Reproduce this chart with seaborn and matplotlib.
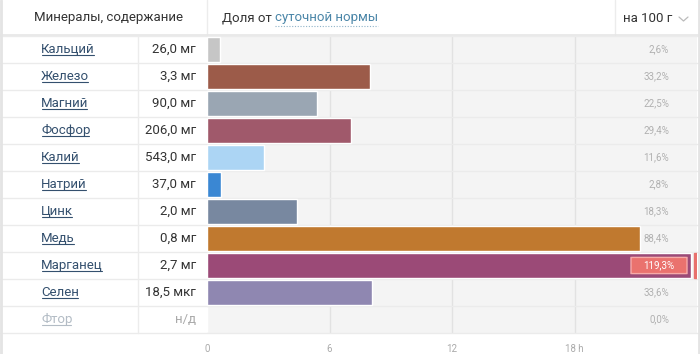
import matplotlib
matplotlib.use("Agg")
import numpy as np
import pandas as pd
import matplotlib.pyplot as plt
import seaborn as sns
from matplotlib.lines import Line2D
from matplotlib.patches import FancyBboxPatch, Rectangle
from matplotlib.transforms import blended_transform_factory


minerals = ['Кальций', 'Железо', 'Магний', 'Фосфор', 'Калий', 'Натрий',
            'Цинк', 'Медь', 'Марганец', 'Селен', 'Фтор']
amounts = ['26,0 мг', '3,3 мг', '90,0 мг', '206,0 мг', '543,0 мг', '37,0 мг',
           '2,0 мг', '0,8 мг', '2,7 мг', '18,5 мкг', 'н/д']
percents = [2.6, 33.2, 22.5, 29.4, 11.6, 2.8, 18.3, 88.4, 119.3, 33.6, 0.0]
bar_colors = ['#c6c6c6', '#9c5b49', '#9aa6b3', '#a0596b', '#acd5f4', '#3a87d3',
              '#7888a0', '#c0792f', '#9b4a77', '#8f87b1', '#cccccc']
tick_pos = [0, 25, 50, 75]
tick_labels = ['0', '6', '12', '18 h']

W, H = 700, 354

df = pd.DataFrame({'name': minerals, 'pct': percents})
df['shown'] = df['pct'].clip(upper=98.8)

sns.set_style('white')
plt.rcParams['font.family'] = ['Roboto', 'DejaVu Sans']

fig = plt.figure(figsize=(7, 3.54), dpi=100)
fig.patch.set_facecolor('white')


def fx(x):
    return x / W


def fy(y):
    return 1 - y / H


ax = fig.add_axes([fx(207), fy(333), 490 / W, 297 / H])
ax.set_facecolor('#f4f4f4')

sns.barplot(data=df, x='shown', y='name', hue='name', palette=bar_colors,
            legend=False, width=0.9, saturation=1, orient='h', ax=ax)

ax.set_xlim(0, 100)
ax.set_ylim(len(minerals) - 0.5, -0.5)
ax.set_xticks(tick_pos, tick_labels)
ax.set_yticks([])
ax.set_xlabel('')
ax.set_ylabel('')
ax.tick_params(axis='x', length=0, pad=8, labelsize=7, labelcolor='#aaaaaa')
for s in ax.spines.values():
    s.set_visible(False)
for t in tick_pos[1:]:
    ax.axvline(t, color='#e2e2e2', lw=1, zorder=0)

# overflow marker for values above 100%
for i, p in enumerate(percents):
    if p > 100:
        ax.add_patch(Rectangle((99.3, i - 0.45), 0.6, 0.9, color='#e8706c',
                               zorder=5))

blend = blended_transform_factory(fig.transFigure, ax.transData)

# row separators
for i in range(len(minerals) + 1):
    ax.add_line(Line2D([0, 1], [i - 0.5, i - 0.5], transform=blend,
                       color='#ebebeb', lw=1, clip_on=False, zorder=0.5))

# column lines
fig.add_artist(Line2D([fx(138), fx(138)], [fy(36), fy(333)], color='#ececec', lw=1))
fig.add_artist(Line2D([fx(207), fx(207)], [fy(0), fy(35)], color='#ececec', lw=1))
fig.add_artist(Line2D([fx(615), fx(615)], [fy(0), fy(35)], color='#ececec', lw=1))
fig.add_artist(Line2D([0, 1], [fy(35), fy(35)], color='#e6e6e6', lw=1.2))
fig.add_artist(Line2D([fx(1), fx(1)], [0, 1], color='#e4e4e4', lw=2))
fig.add_artist(Line2D([fx(699), fx(699)], [0, 1], color='#e4e4e4', lw=2))

# header
fig.text(fx(108), fy(18), 'Минералы, содержание', ha='center', va='center',
         fontsize=9.5, color='#333333')
t1 = fig.text(fx(222), fy(18), 'Доля от ', ha='left', va='center',
              fontsize=9.5, color='#333333')
fig.text(fx(623), fy(18), 'на 100 г', ha='left', va='center',
         fontsize=9.5, color='#333333')
fig.add_artist(Line2D([fx(679), fx(683.5), fx(688)], [fy(17), fy(21), fy(17)],
                      color='#bbbbbb', lw=0.9))

fig.canvas.draw()
r = fig.canvas.get_renderer()
bb = t1.get_window_extent(r)
t2 = fig.text(bb.x1 / W, fy(18), 'суточной нормы', ha='left', va='center',
              fontsize=9.5, color='#4b86a8')
fig.canvas.draw()
bb2 = t2.get_window_extent(r)
fig.add_artist(Line2D([bb2.x0 / W, bb2.x1 / W], [fy(26), fy(26)],
                      color='#8fb3c8', lw=0.8, ls=(0, (1, 1.5))))

# table text
name_texts = []
for i, (n, a, p) in enumerate(zip(minerals, amounts, percents)):
    muted = a == 'н/д'
    nc = '#b3bcc5' if muted else '#34506e'
    vc = '#aaaaaa' if muted else '#333333'
    nt = ax.text(fx(41), i, n, transform=blend, ha='left', va='center',
                 fontsize=9.5, color=nc)
    name_texts.append((nt, nc))
    ax.text(fx(196), i, a, transform=blend, ha='right', va='center',
            fontsize=9.5, color=vc)
    lab = f'{p:.1f}%'.replace('.', ',')
    if p > 100:
        ax.add_patch(FancyBboxPatch((fx(631), i - 0.3), fx(56), 0.6,
                                    boxstyle='round,pad=0,rounding_size=0.004',
                                    transform=blend, fc='#ea726e', ec='#f6aaa8',
                                    lw=1, clip_on=False, zorder=6))
        ax.text(fx(659), i, lab, transform=blend, ha='center', va='center',
                fontsize=7, color='white', zorder=7)
    else:
        ax.text(fx(669), i, lab, transform=blend, ha='right', va='center',
                fontsize=7, color='#b0b0b0')

fig.canvas.draw()
for nt, nc in name_texts:
    b = nt.get_window_extent(r)
    y = b.y0 + 1
    fig.add_artist(Line2D([(b.x0 + 1) / W, (b.x1 - 1) / W], [y / H, y / H],
                          color=nc, lw=0.8))

fig.savefig('out.png', dpi=100)
